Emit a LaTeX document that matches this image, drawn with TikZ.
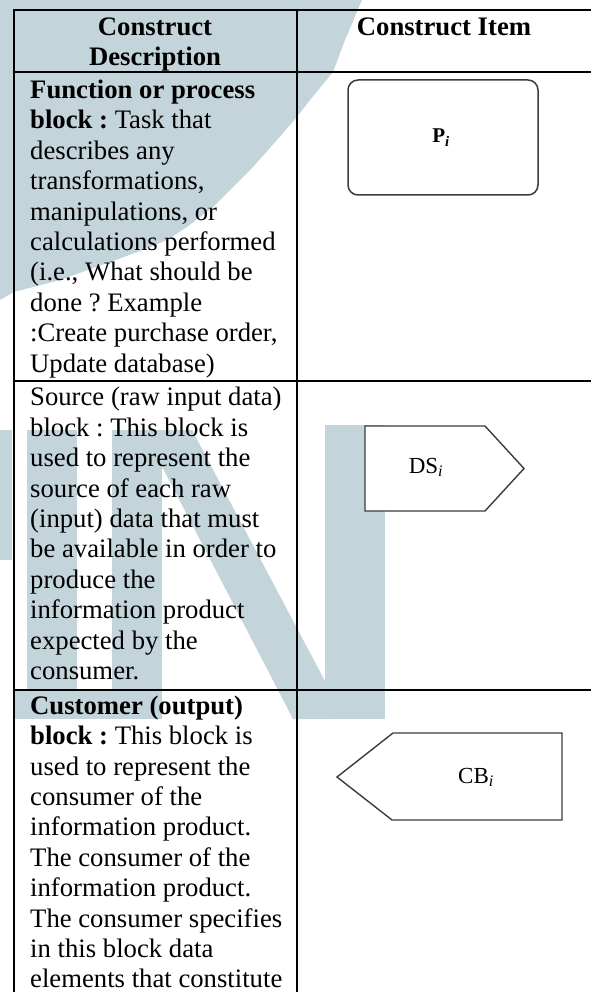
\documentclass[tikz,border=0pt]{standalone}
\usepackage{fontspec}
\setmainfont{Liberation Serif}
\frenchspacing
\definecolor{wmblue}{RGB}{196,212,219}
\definecolor{shapegray}{RGB}{60,60,60}
\begin{document}
\begin{tikzpicture}[x=1pt,y=-1pt,
  rule/.style={line width=2pt, black},
  celltext/.style={anchor=north west, inner sep=0pt, align=left,
    font=\fontsize{26.7}{30.4}\selectfont\frenchspacing},
  headtext/.style={anchor=north, inner sep=0pt, align=center,
    font=\fontsize{26.7}{30.4}\selectfont\bfseries},
  blockline/.style={draw=shapegray, line width=1.4pt, fill=white},
  blocklabel/.style={inner sep=0pt, anchor=base}
]
\useasboundingbox (0,0) rectangle (591,992);

% pale logo in the background
\fill[wmblue] (0,0) -- (362,0) -- (345,40) -- (333,72) -- (310,100) -- (296,118)
  -- (277,140) -- (253,167) -- (233,187) -- (213,207) -- (187,227) -- (167,240)
  -- (143,250) -- (110,262) -- (60,280) -- (14,292) -- (0,300) -- cycle;
\fill[wmblue] (0,430) rectangle (12,560);
\fill[wmblue] (27,430) rectangle (77,719);
\fill[wmblue] (112,430) rectangle (162,719);
\fill[wmblue] (15,690) rectangle (162,719);
\fill[wmblue] (143,430) -- (192,430) -- (335,700) -- (335,719) -- (293,719) -- cycle;
\fill[wmblue] (325,425) rectangle (385,719);

% table rules
\draw[rule] (14,10) -- (591,10);
\draw[rule] (14,72) -- (591,72);
\draw[rule] (14,380.5) -- (591,380.5);
\draw[rule] (14,689.5) -- (591,689.5);
\draw[rule] (14,9) -- (14,992);
\draw[rule] (296.5,9) -- (296.5,992);

% header
\node[headtext] (hdesc) at (155,13.8) {\strut Construct\\Description};
\node[headtext] (hitem) at (444,13.8) {\strut Construct Item};

% descriptions
\node[celltext] (desc1) at (30,77.1) {\strut\textbf{Function or process}\\
  \textbf{block :} Task that\\describes any\\transformations,\\manipulations, or\\
  calculations performed\\(i.e., What should be\\done ? Example\\
  :Create purchase order,\\Update database)};
\node[celltext] (desc2) at (30,384.5) {\strut Source (raw input data)\\
  block : This block is\\used to represent the\\source of each raw\\
  (input) data that must\\be available in order to\\produce the\\
  information product\\expected by the\\consumer.};
\node[celltext] (desc3) at (30,692.8) {\strut\textbf{Customer (output)}\\
  \textbf{block :} This block is\\used to represent the\\consumer of the\\
  information product.\\The consumer of the\\information product.\\
  The consumer specifies\\in this block data\\elements that constitute};

% construct items
\node[draw=shapegray, line width=1.5pt, rounded corners=10pt, fill=white,
  minimum width=190pt, minimum height=115pt, inner sep=0pt] (pbox) at (443,137.5) {};
\node[blocklabel, font=\fontsize{21}{24}\selectfont\bfseries] (plabel) at (441,143)
  {P\textsubscript{\bfseries\itshape i}};

\draw[blockline] (365,426) -- (485,426) -- (524,468.5) -- (485,511) -- (365,511) -- cycle;
\node[blocklabel, font=\fontsize{23}{26}\selectfont] (dslabel) at (426,473)
  {DS\textsubscript{\itshape i}};

\draw[blockline] (393,733) -- (562,733) -- (562,820) -- (392,820) -- (337,777) -- cycle;
\node[blocklabel, font=\fontsize{23}{26}\selectfont] (cblabel) at (476,783)
  {CB\textsubscript{\itshape i}};
\end{tikzpicture}
\end{document}
